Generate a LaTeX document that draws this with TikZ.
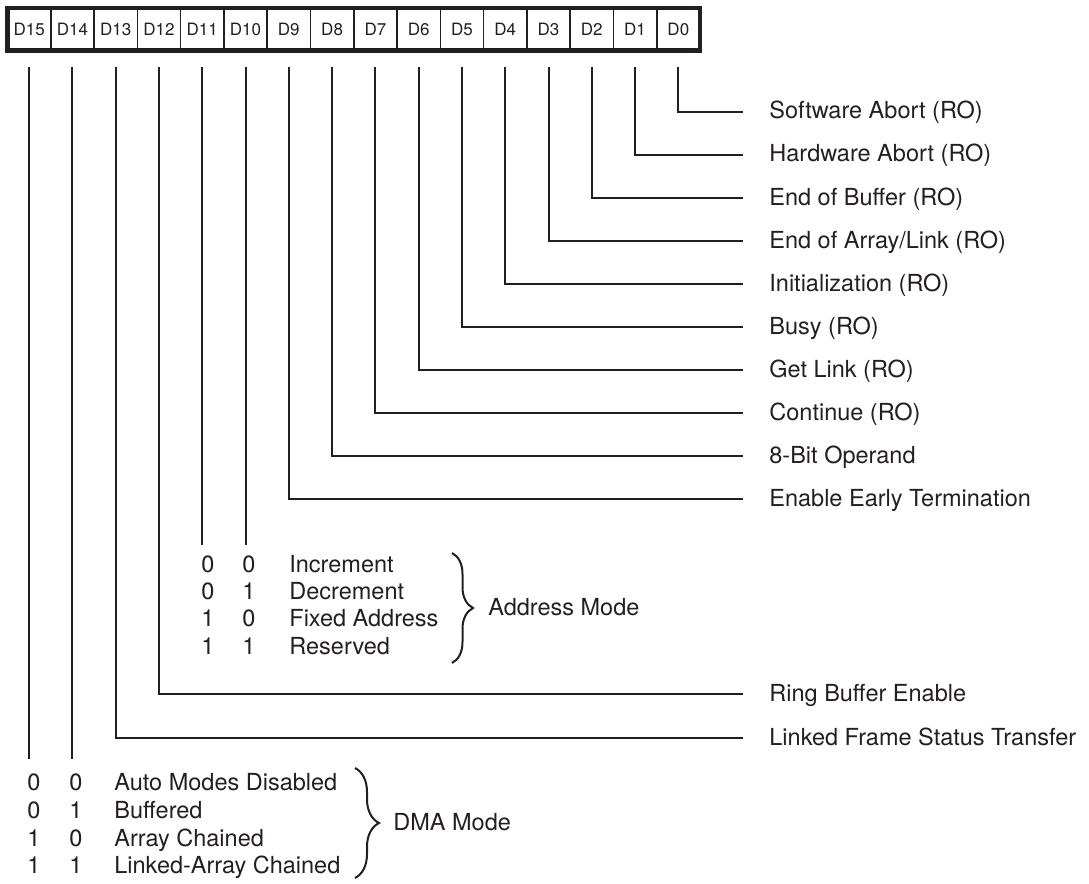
\documentclass[tikz,border=0pt]{standalone}
\usepackage{fontspec}
\setmainfont{TeX Gyre Heros}
\usetikzlibrary{positioning, decorations.pathreplacing}
\definecolor{ink}{HTML}{231F20}
\tikzset{
        cell/.style={draw=ink, line width=0.8pt, minimum width=21.64pt, minimum height=21.25pt,
                     inner sep=0pt, outer sep=0pt, font=\fontsize{8.5}{10}\selectfont}, % one bit of the register
        frame/.style={draw=ink, line width=2.2pt},
        wire/.style={draw=ink, line width=1pt},
        bitlabel/.style={anchor=west, inner xsep=13pt, inner ysep=0pt, text height=0.72em, text depth=0pt},
        rowtext/.style={anchor=west, inner sep=0pt, text height=0.72em, text depth=0pt},
        mbrace/.style={draw=ink, line width=1pt, decorate, decoration={brace, amplitude=#1}},
        mbrace/.default=11pt,
    }
\begin{document}
\begin{tikzpicture}[x=0.5pt, y=-0.5pt, text=ink, font=\fontsize{11.75}{14}\selectfont]
    \useasboundingbox (0,0) rectangle (1089,884);

    % register bits
    \node[cell] (D15) at (29.14,29.25) {D15};
    \foreach \i [evaluate=\i as \j using int(\i+1)] in {14,...,0}
      \node[cell, right=0pt of D\j] (D\i) {D\i};
    \draw[frame] (D15.north west) rectangle (D0.south east);

    % single bit fields
    \node[bitlabel] (L0) at (743,111.7) {Software Abort (RO)};
    \node[bitlabel] (L1) at (743,154.7) {Hardware Abort (RO)};
    \node[bitlabel] (L2) at (743,197.8) {End of Buffer (RO)};
    \node[bitlabel] (L3) at (743,240.8) {End of Array/Link (RO)};
    \node[bitlabel] (L4) at (743,283.8) {Initialization (RO)};
    \node[bitlabel] (L5) at (743,326.9) {Busy (RO)};
    \node[bitlabel] (L6) at (743,369.9) {Get Link (RO)};
    \node[bitlabel] (L7) at (743,412.9) {Continue (RO)};
    \node[bitlabel] (L8) at (743,456.0) {8-Bit Operand};
    \node[bitlabel] (L9) at (743,499.0) {Enable Early Termination};
    \node[bitlabel] (L12) at (743,694) {Ring Buffer Enable};
    \node[bitlabel] (L13) at (743,738) {Linked Frame Status Transfer};
    \foreach \i in {0,...,9,12,13}
      \draw[wire] ([yshift=-8pt]D\i.south) |- (L\i.west);

    % address mode (D11, D10)
    \foreach \bitA/\bitB/\mode [count=\n from 0] in {0/0/Increment, 0/1/Decrement, 1/0/Fixed Address, 1/1/Reserved} {
      \node[rowtext] (adrA\n) at (201,565+27.3*\n) {\bitA};
      \node[rowtext] (adrB\n) at (242,565+27.3*\n) {\bitB};
      \node[rowtext] (adrT\n) at (289,565+27.3*\n) {\mode};
    }
    \draw[wire] ([yshift=-8pt]D11.south) -- ([yshift=6pt]D11.south |- adrA0.north);
    \draw[wire] ([yshift=-8pt]D10.south) -- ([yshift=6pt]D10.south |- adrB0.north);
    \draw[mbrace=10.5pt] (452,553) -- (452,663);
    \node[rowtext] (adrmode) at (488,608) {Address Mode};

    % DMA mode (D15, D14)
    \foreach \bitA/\bitB/\mode [count=\n from 0] in {0/0/Auto Modes Disabled, 0/1/Buffered, 1/0/Array Chained, 1/1/Linked-Array Chained} {
      \node[rowtext] (dmaA\n) at (27,783.3+27.8*\n) {\bitA};
      \node[rowtext] (dmaB\n) at (69,783.3+27.8*\n) {\bitB};
      \node[rowtext] (dmaT\n) at (114,783.3+27.8*\n) {\mode};
    }
    \draw[wire] ([yshift=-8pt]D15.south) -- ([yshift=8.5pt]D15.south |- dmaA0.north);
    \draw[wire] ([yshift=-8pt]D14.south) -- ([yshift=8.5pt]D14.south |- dmaB0.north);
    \draw[mbrace=12pt] (355,768) -- (355,878);
    \node[rowtext] (dmamode) at (393,823) {DMA Mode};
\end{tikzpicture}
\end{document}
